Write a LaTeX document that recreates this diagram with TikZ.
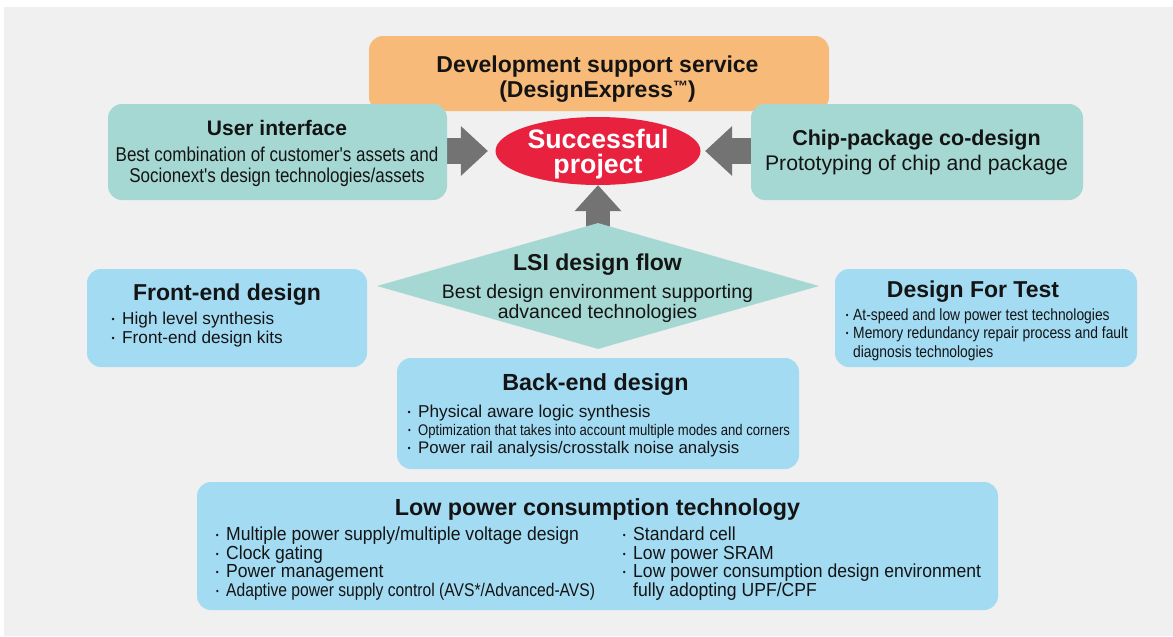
\documentclass[tikz,border=0pt]{standalone}
\usepackage{fontspec}
\setmainfont{Liberation Sans}
\newfontfamily\cnd[FakeStretch=0.85]{Liberation Sans}
\newfontfamily\cnm[FakeStretch=0.93]{Liberation Sans}
\usetikzlibrary{shapes.geometric,arrows.meta}
\definecolor{bggray}{HTML}{EFF0EF}
\definecolor{orangebox}{HTML}{F8BA78}
\definecolor{tealbox}{HTML}{A6D8D3}
\definecolor{bluebox}{HTML}{A3DBF3}
\definecolor{redell}{HTML}{E8213F}
\definecolor{arrowgray}{HTML}{737373}
\definecolor{ink}{HTML}{141414}
\newcommand\fsz[1]{\fontsize{#1}{#1}\selectfont}
\newcommand\bul[1]{\llap{\raisebox{1.2pt}{\fontsize{9}{9}\selectfont •}\kern#1}}
\pgfdeclarelayer{bglayer}
\pgfdeclarelayer{arrlayer}
\pgfsetlayers{bglayer,arrlayer,main}
\begin{document}
\begin{tikzpicture}[x=1pt,y=-1pt,
  box/.style={rectangle, rounded corners=14pt, inner sep=0pt, draw=none},
  txt/.style={inner sep=0pt, text=ink, anchor=base},
  lst/.style={inner sep=0pt, text=ink, anchor=base west},
  title/.style={txt, font=\bfseries\fsz{23}},
  bigarrow/.style={draw=arrowgray, line width=26pt,
    -{Triangle[length=27pt 0 0, width=50pt 0 0, line width=0pt 0 0]}},
  uparrow/.style={draw=arrowgray, line width=24pt,
    -{Triangle[length=26pt 0 0, width=47pt 0 0, line width=0pt 0 0]}}
]
\useasboundingbox (0,0) rectangle (1173,637);
\begin{pgfonlayer}{bglayer}
  \fill[bggray] (4,7) rectangle (1173,636);
\end{pgfonlayer}

% boxes
\node[box, fill=orangebox, minimum width=460pt, minimum height=75pt] (dev) at (599,73.5) {};
\node[box, fill=tealbox, minimum width=339pt, minimum height=96pt] (ui) at (277.5,152) {};
\node[box, fill=tealbox, minimum width=332pt, minimum height=96pt] (chip) at (917,152) {};
\node[ellipse, fill=redell, minimum width=205pt, minimum height=68pt, inner sep=0pt] (succ) at (598,151) {};
\node[diamond, fill=tealbox, minimum width=442pt, minimum height=126pt, inner sep=0pt] (lsi) at (598,286) {};
\node[box, fill=bluebox, minimum width=280pt, minimum height=98pt] (front) at (227,318) {};
\node[box, fill=bluebox, minimum width=302pt, minimum height=98pt] (dft) at (986,318) {};
\node[box, fill=bluebox, minimum width=402pt, minimum height=111pt] (back) at (598,413.5) {};
\node[box, fill=bluebox, minimum width=801pt, minimum height=128pt] (low) at (597.5,546) {};

% arrows
\begin{pgfonlayer}{arrlayer}
  \draw[bigarrow] (ui.east |- succ) -- ([xshift=-7.5pt]succ.west);
  \draw[bigarrow] (chip.west |- succ) -- ([xshift=4.5pt]succ.east);
  \draw[uparrow] ([yshift=-20pt]lsi.north) -- (succ.south);
\end{pgfonlayer}

% texts
\node[title] (devt1) at (597.5,72) {Development support service};
\node[title] (devt2) at (597.5,97) {(DesignExpress\raisebox{5.5pt}{\fsz{15}™})};

\node[txt, font=\bfseries\fsz{26.7}, text=white] (s1) at (598,148) {Successful};
\node[txt, font=\bfseries\fsz{26.7}, text=white] (s2) at (598,173) {project};

\node[txt, font=\bfseries\fsz{21}] (uit) at (277,135) {User interface};
\node[txt, font=\cnd\fsz{20}] (uib1) at (277,161) {Best combination of customer's assets and};
\node[txt, font=\cnd\fsz{20}] (uib2) at (277,182) {Socionext's design technologies/assets};

\node[txt, font=\bfseries\fsz{21.5}] (chipt) at (916.5,145) {Chip-package co-design};
\node[txt, font=\fsz{21.2}] (chipb) at (916.5,170) {Prototyping of chip and package};

\node[title] (lsit) at (597.5,270) {LSI design flow};
\node[txt, font=\fsz{19.5}] (lsib1) at (597.5,298) {Best design environment supporting};
\node[txt, font=\fsz{19.5}] (lsib2) at (597.5,318) {advanced technologies};

\node[title] (frontt) at (227,300) {Front-end design};
\node[lst, font=\fsz{17.2}] (front1) at (122,324) {\bul{7.4pt}High level synthesis};
\node[lst, font=\fsz{17.2}] (front2) at (122,343) {\bul{7.4pt}Front-end design kits};

\node[title] (dftt) at (973,297) {Design For Test};
\node[lst, font=\cnd\fsz{16.3}] (dft1) at (853,320) {\bul{4.6pt}At-speed and low power test technologies};
\node[lst, font=\cnd\fsz{16.3}] (dft2) at (853,338) {\bul{4.6pt}Memory redundancy repair process and fault};
\node[lst, font=\cnd\fsz{16.3}] (dft3) at (853,357) {diagnosis technologies};

\node[txt, font=\bfseries\fsz{23.3}] (backt) at (595.5,390) {Back-end design};
\node[lst, font=\fsz{17.2}] (back1) at (418,417) {\bul{7.4pt}Physical aware logic synthesis};
\node[lst, font=\cnd\fsz{15.4}] (back2) at (418,435) {\bul{7.4pt}Optimization that takes into account multiple modes and corners};
\node[lst, font=\fsz{16.8}] (back3) at (418,453) {\bul{7.4pt}Power rail analysis/crosstalk noise analysis};

\node[txt, font=\bfseries\fsz{23.3}] (lowt) at (597.5,515) {Low power consumption technology};
\node[lst, font=\cnm\fsz{18.9}] (lowl1) at (226,540) {\bul{7.4pt}Multiple power supply/multiple voltage design};
\node[lst, font=\cnm\fsz{18.9}] (lowl2) at (226,559) {\bul{7.4pt}Clock gating};
\node[lst, font=\cnm\fsz{18.9}] (lowl3) at (226,577) {\bul{7.4pt}Power management};
\node[lst, font=\cnd\fsz{18.4}] (lowl4) at (226,596) {\bul{7.4pt}Adaptive power supply control (AVS*/Advanced-AVS)};
\node[lst, font=\cnm\fsz{18.9}] (lowr1) at (633,540) {\bul{7.4pt}Standard cell};
\node[lst, font=\cnm\fsz{18.9}] (lowr2) at (633,559) {\bul{7.4pt}Low power SRAM};
\node[lst, font=\cnm\fsz{18.9}] (lowr3) at (633,577) {\bul{7.4pt}Low power consumption design environment};
\node[lst, font=\cnm\fsz{18.9}] (lowr4) at (633,596) {fully adopting UPF/CPF};
\end{tikzpicture}
\end{document}
